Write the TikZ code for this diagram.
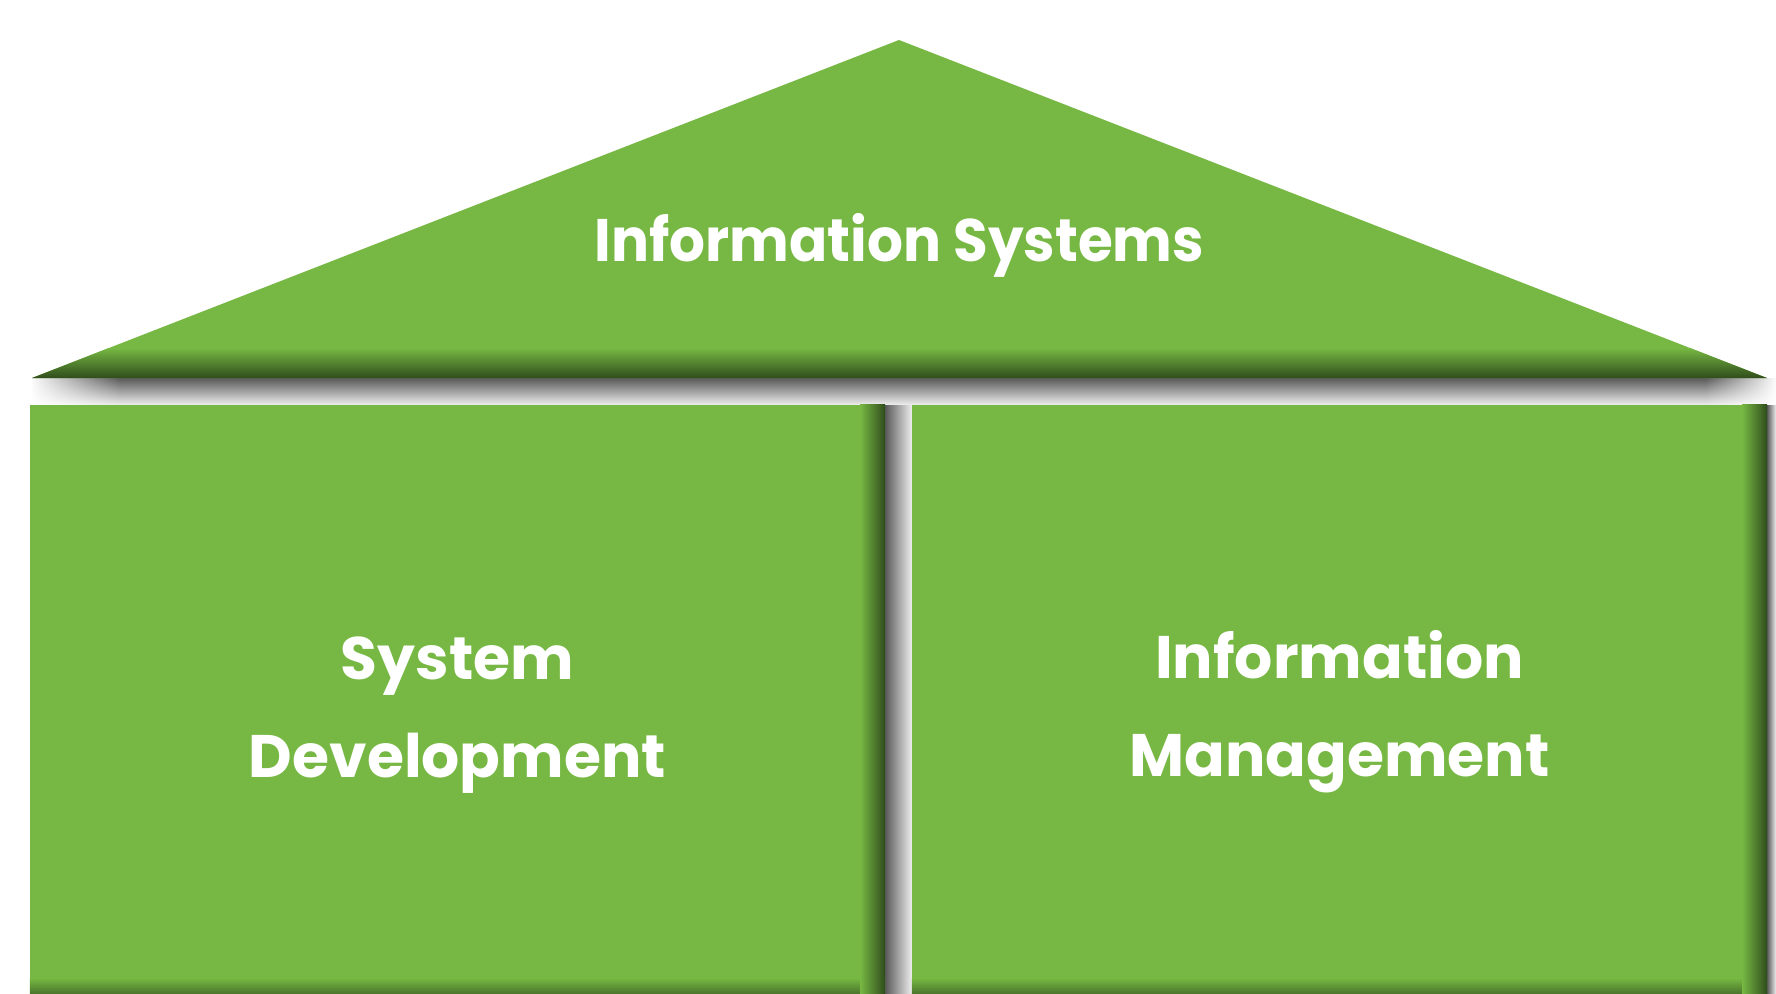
\documentclass[tikz,border=0pt]{standalone}
\usepackage{fontspec}
\setmainfont{Poppins}
\newfontfamily\titlefont{Poppins}[FakeStretch=0.94]
\usetikzlibrary{fadings}
\definecolor{grn}{HTML}{76B843}
\definecolor{dgrn}{HTML}{2F4B1B}
\definecolor{shd}{HTML}{595959}
\begin{document}
\begin{tikzpicture}[x=1pt,y=-1pt,
  lbl/.style={text=white, font=\fontsize{60}{98}\selectfont\bfseries, align=center, inner sep=0pt},
  box/.style={fill=grn, draw=none, inner sep=0pt, minimum width=855pt, minimum height=588pt}]
\useasboundingbox (0,0) rectangle (1776,993);
\fill[white] (0,0) rectangle (1776,993);
% shadow below the roof
\shade[top color=shd, bottom color=shd!10] (32,378) rectangle (1776,405);
\fill[white, path fading=east] (30,377) rectangle (120,406);
\fill[white, path fading=west] (1705,377) rectangle (1777,406);
% roof
\coordinate (apex) at (899,40);
\coordinate (bl) at (32,378);
\coordinate (br) at (1767,378);
\fill[grn] (bl) -- (apex) -- (br) -- cycle;
\begin{scope}
  \clip (bl) -- (apex) -- (br) -- cycle;
  \shade[top color=grn, bottom color=dgrn] (0,348) rectangle (1776,378.5);
\end{scope}
% shadows right of boxes
\shade[left color=shd, right color=shd!10] (885,405) rectangle (912,993);
\shade[left color=shd, right color=shd!10] (1767,405) rectangle (1776,993);
% boxes
\node[box] (sd) at (457.5,699) {};
\node[box] (im) at (1339.5,699) {};
\shade[top color=grn, bottom color=dgrn!60!grn] (sd.south west) ++(0,-15) rectangle (sd.south east);
\shade[top color=grn, bottom color=dgrn!60!grn] (im.south west) ++(0,-15) rectangle (im.south east);
\shade[left color=grn, right color=dgrn] (sd.north east) ++(-25,0) rectangle (sd.south east);
\shade[left color=grn, right color=dgrn] (im.north east) ++(-25,0) rectangle (im.south east);
% labels
\node[lbl, anchor=base, font=\fontsize{60}{98}\titlefont\bfseries] (t0) at (899.5,261) {Information Systems};
\node[lbl, anchor=base] (t1) at (sd.center |- 0,777) {System\\Development};
\node[lbl, anchor=base] (t2) at (im.center |- 0,776) {Information\\Management};
\end{tikzpicture}
\end{document}
